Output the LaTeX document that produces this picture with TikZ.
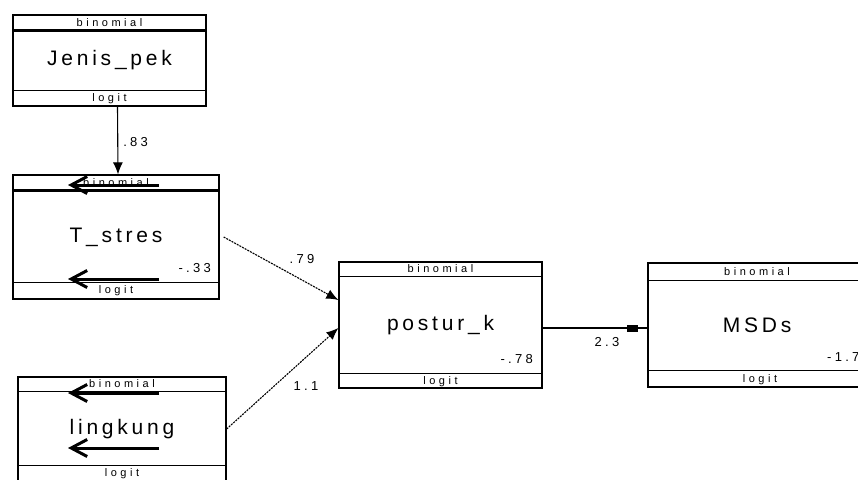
\documentclass[tikz,border=0pt]{standalone}
\usepackage{fontspec}
\setmainfont{Liberation Sans}
\newfontfamily\bigf[LetterSpace=18]{Liberation Sans}
\newfontfamily\smallf[LetterSpace=32]{Liberation Sans}
\newfontfamily\coeff[LetterSpace=25]{Liberation Sans}
\usetikzlibrary{arrows.meta}
\begin{document}
\begin{tikzpicture}[x=1pt,y=-1pt,
  box/.style={draw, line width=1.3pt, rectangle, inner sep=0pt, font=\bigf\fontsize{21}{24}\selectfont},
  band/.style={font=\smallf\fontsize{11}{12}\selectfont, inner sep=0pt},
  coef/.style={font=\coeff\fontsize{13}{15}\selectfont, inner sep=0pt},
  sep/.style={line width=1.3pt},
  thicksep/.style={line width=3pt},
  conn/.style={line width=1.1pt, -{Latex[length=12pt,width=10pt]}},
  dconn/.style={conn, dash pattern=on 2pt off 1pt},
  barb/.style={line width=3pt, -{Straight Barb[length=16pt,width=17pt]}}
]
\useasboundingbox (0,0) rectangle (858,479);
\clip (0,0) rectangle (858,479);
% Jenis_pek
\node[box, minimum width=193pt, minimum height=91pt] (jp) at (109.5,60.5) {Jenis\_pek};
\draw[thicksep] ([yshift=-16pt]jp.north west) -- ([yshift=-16pt]jp.north east);
\draw[sep] ([yshift=16pt]jp.south west) -- ([yshift=16pt]jp.south east);
\node[band] (jpb) at ([yshift=-8pt]jp.north) {binomial};
\node[band] (jpl) at ([yshift=8pt]jp.south) {logit};
% T_stres
\node[box, minimum width=206pt, minimum height=124pt] (ts) at (116,237) {T\_stres};
\draw[thicksep] ([yshift=-16pt]ts.north west) -- ([yshift=-16pt]ts.north east);
\draw[sep] ([yshift=17pt]ts.south west) -- ([yshift=17pt]ts.south east);
\node[band] (tsb) at ([yshift=-8pt]ts.north) {binomial};
\node[band] (tsl) at ([yshift=8.5pt]ts.south) {logit};
\node[coef, anchor=east] (tsc) at (211,268) {-.33};
% lingkung
\node[box, minimum width=208pt, minimum height=104pt] (lk) at (122,429) {lingkung};
\draw[sep] ([yshift=-15pt]lk.north west) -- ([yshift=-15pt]lk.north east);
\draw[sep] ([yshift=16pt]lk.south west) -- ([yshift=16pt]lk.south east);
\node[band] (lkb) at ([yshift=-7.5pt]lk.north) {binomial};
\node[band] (lkl) at ([yshift=8pt]lk.south) {logit};
% postur_k
\node[box, minimum width=203pt, minimum height=126pt] (pk) at (440.5,325) {postur\_k};
\draw[sep] ([yshift=-15pt]pk.north west) -- ([yshift=-15pt]pk.north east);
\draw[sep] ([yshift=15pt]pk.south west) -- ([yshift=15pt]pk.south east);
\node[band] (pkb) at ([yshift=-7.5pt]pk.north) {binomial};
\node[band] (pkl) at ([yshift=7.5pt]pk.south) {logit};
\node[coef, anchor=east] (pkc) at (533,359) {-.78};
% MSDs
\node[box, minimum width=218pt, minimum height=124pt] (ms) at (757,325) {MSDs};
\draw[sep] ([yshift=-18pt]ms.north west) -- ([yshift=-18pt]ms.north east);
\draw[sep] ([yshift=17pt]ms.south west) -- ([yshift=17pt]ms.south east);
\node[band] (msb) at ([yshift=-9pt]ms.north) {binomial};
\node[band] (msl) at ([xshift=3pt,yshift=8.5pt]ms.south) {logit};
\node[coef, anchor=west] (msc) at (827,357) {-1.7};
% connectors
\draw[conn] ([xshift=8pt]jp.south) -- ([xshift=2pt]ts.north) node[coef, pos=0.52, anchor=west, xshift=5pt] (l83) {.83};
\draw[dconn] ([xshift=4pt]ts.east) -- ([yshift=25pt]pk.west);
\node[coef] (l79) at (302,259) {.79};
\draw[dconn] (lk.east) -- ([yshift=-3pt]pk.west);
\node[coef] (l11) at (306,386) {1.1};
\draw[line width=1.2pt] ([yshift=-3pt]pk.east) -- ([yshift=-3pt]ms.west)
  node[pos=0.854, fill, inner sep=0pt, minimum width=11pt, minimum height=7pt] (sq) {};
\draw[line width=2.5pt] (sq.east) -- (sq.east -| ms.west);
\node[coef] (l23) at (607,342) {2.3};
% stray arrows
\draw[barb] (159,185) -- (68,185);
\draw[barb] (159,279) -- (68,279);
\draw[barb] (159,393) -- (68,393);
\draw[barb] (159,448) -- (68,448);
\end{tikzpicture}
\end{document}
